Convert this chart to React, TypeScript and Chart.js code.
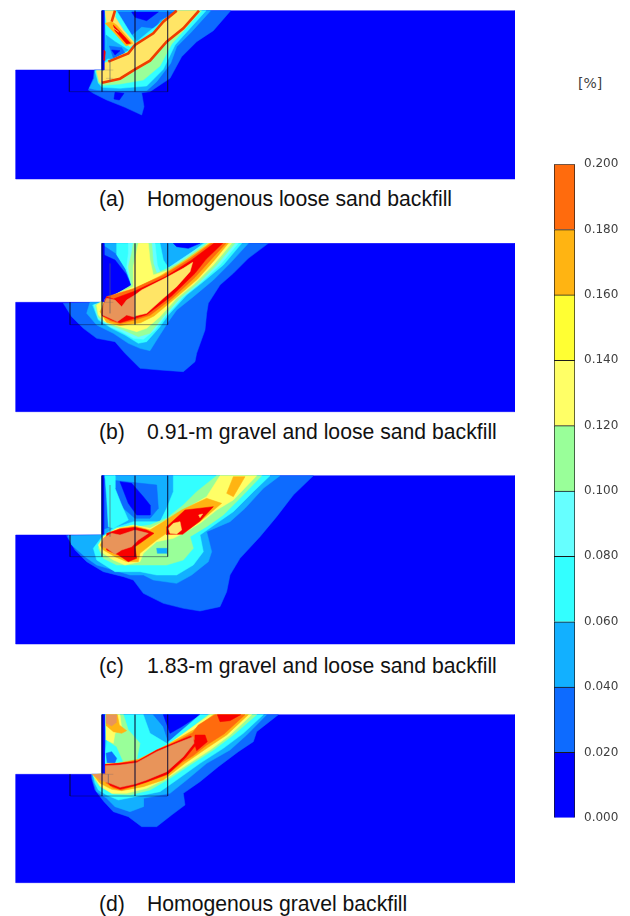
import React, { useEffect, useRef } from "react";
import { Chart, registerables } from "chart.js";

Chart.register(...registerables);

const levelColors: Record<string, string> = {
  L0: "#0000ff", L1: "#0d6bff", L2: "#12b0ff", L3: "#33ffff", L4: "#66ffff", L5: "#99ff99",
  L6: "#ffff66", L7: "#ffff33", L8: "#ffb412", L9: "#ff6b0d", L10: "#f80000", P: "#ffe566", O: "#e8945a",
};

type Layer = [string, number[]];

const panelA: Layer[] = [
  ["L0", [47,210, 306,210, 306,32, 1545,32, 1545,537, 47,537]],
  ["L1", [306,32, 692,32, 640,92, 590,125, 545,170, 510,235, 450,275, 425,278, 432,320, 425,345, 375,322, 320,300, 280,280, 265,270, 280,235, 283,210, 306,210]],
  ["L0", [345,277, 372,280, 358,300, 342,297]],
  ["L2", [306,32, 632,32, 575,95, 530,140, 512,190, 470,245, 440,272, 350,272, 290,270, 268,265, 283,235, 285,212, 306,212]],
  ["L1", [350,36, 530,36, 480,60, 465,85, 425,80, 395,105, 372,70]],
  ["L0", [395,36, 475,36, 440,62, 405,52]],
  ["L3", [285,212, 295,250, 306,262, 360,265, 440,258, 490,208, 525,135, 618,32, 535,32, 490,62, 450,92, 410,125, 395,105, 350,32, 314,32, 318,110, 325,175, 314,185, 314,212]],
  ["L2", [318,105, 345,125, 385,150, 335,178, 322,175]],
  ["L1", [328,138, 365,143, 375,160, 340,174]],
  ["L0", [335,150, 360,152, 345,165]],
  ["L5", [288,212, 296,248, 308,256, 360,252, 430,240, 480,198, 515,132, 605,32, 532,32, 490,60, 460,95, 405,135, 385,155, 325,185, 312,190, 312,212]],
  ["P", [290,212, 298,245, 310,250, 360,240, 405,212, 450,185, 498,130, 550,90, 597,32, 530,32, 490,60, 465,95, 405,135, 385,155, 325,185, 312,190, 312,212]],
  ["P", [315,32, 345,32, 345,50, 370,90, 405,130, 390,140, 345,100, 320,70]],
  ["L8", [335,65, 350,75, 398,130, 378,138, 340,95, 315,70]],
  ["L10", [340,75, 360,95, 392,130, 380,132, 345,92]],
  ["P", [340,84, 356,96, 345,88]],
  ["L0", [306,32, 312,32, 312,210, 306,210]],
  ["L10", [312,150, 316,155, 314,182, 311,180]],
];
const redLinesA: number[][] = [
  [306,248, 360,236, 405,208, 450,182, 500,125, 550,85, 597,32],
  [325,185, 385,160, 405,135, 460,100, 490,65, 530,32],
  [345,32, 335,65],
];

const panelB: Layer[] = [
  ["L0", [47,217, 306,217, 306,40, 1545,40, 1545,545, 47,545]],
  ["L1", [306,40, 805,40, 745,85, 700,130, 660,165, 625,220, 620,250, 615,300, 590,370, 585,395, 550,425, 480,420, 420,415, 375,370, 345,335, 290,325, 250,295, 215,260, 190,220, 306,217]],
  ["L2", [306,40, 745,40, 690,100, 640,150, 580,200, 530,240, 505,275, 470,330, 450,362, 420,355, 385,340, 340,310, 290,285, 260,250, 270,217, 306,217]],
  ["L0", [520,40, 600,40, 565,55, 530,50]],
  ["L3", [350,40, 480,40, 490,90, 510,120, 610,40, 725,40, 670,105, 610,155, 560,195, 505,255, 480,290, 440,335, 415,340, 375,315, 335,295, 295,270, 278,225, 306,217, 330,200, 395,170, 375,115, 350,75]],
  ["L1", [312,48, 345,70, 375,118, 395,170, 335,205, 312,212]],
  ["L0", [312,75, 345,90, 378,132, 392,165, 370,182, 335,200, 312,208]],
  ["L4", [385,40, 465,40, 472,105, 482,130, 525,100, 615,40, 715,40, 660,105, 602,158, 550,200, 497,258, 465,300, 430,328, 400,325, 365,305, 330,290, 295,266, 282,225, 306,216, 340,196, 395,168, 380,112, 385,70]],
  ["L5", [400,40, 455,40, 460,100, 470,130, 535,100, 620,40, 705,40, 650,105, 595,160, 540,205, 490,260, 450,310, 415,320, 370,300, 330,285, 295,262, 285,225, 306,215, 345,195, 395,165, 385,110, 395,70]],
  ["L6", [415,40, 445,40, 450,90, 460,135, 540,110, 625,40, 695,40, 640,105, 585,160, 530,205, 480,260, 440,295, 410,305, 360,290, 315,275, 295,255, 290,225, 320,205, 400,170, 400,110]],
  ["L8", [628,40, 685,40, 642,92, 592,148, 522,208, 462,258, 422,278, 360,287, 320,277, 300,245, 320,205, 400,178, 480,138, 560,88]],
  ["L9", [634,40, 678,40, 630,92, 585,142, 518,204, 450,256, 405,270, 360,281, 330,272, 306,255, 310,225, 320,200, 400,176, 490,136, 568,88]],
  ["L10", [642,40, 668,40, 618,88, 585,130, 515,198, 440,254, 405,265, 360,278, 335,270, 306,257, 310,225, 320,200, 340,207, 405,183, 495,141, 572,92]],
  ["O", [320,205, 345,210, 365,230, 380,210, 405,195, 405,262, 380,255, 352,275, 330,265, 308,255, 310,225]],
  ["P", [578,97, 570,125, 530,170, 490,205, 440,250, 405,258, 405,195, 425,180, 495,145, 550,115]],
  ["L0", [306,40, 312,40, 312,215, 306,215]],
];

const panelC: Layer[] = [
  ["L0", [47,210, 306,210, 306,32, 1545,32, 1545,537, 47,537]],
  ["L1", [306,32, 940,32, 880,90, 830,155, 780,215, 720,280, 690,330, 680,380, 660,425, 600,438, 550,430, 490,415, 430,385, 400,345, 370,335, 310,320, 260,290, 225,255, 200,212, 306,210]],
  ["L2", [306,32, 840,32, 790,70, 735,130, 690,170, 620,200, 635,260, 625,290, 575,330, 530,355, 460,345, 430,330, 390,330, 340,315, 290,300, 255,275, 215,240, 205,212, 306,210]],
  ["L1", [330,45, 470,60, 475,130, 450,160, 405,160, 370,130, 340,80]],
  ["L0", [360,50, 395,55, 430,95, 450,120, 450,150, 410,150, 385,115]],
  ["L1", [560,35, 620,35, 590,50]],
  ["L1", [306,32, 322,50, 330,185, 306,195]],
  ["L3", [520,32, 810,32, 760,80, 700,140, 650,175, 600,210, 610,260, 580,300, 530,330, 470,330, 420,320, 345,320, 290,285, 280,250, 306,215, 340,190, 400,170, 480,170, 500,130, 520,80]],
  ["L3", [315,32, 345,32, 345,70, 365,120, 385,165, 340,190, 325,185, 320,100]],
  ["L5", [590,80, 650,32, 785,32, 720,100, 670,150, 620,185, 570,215, 580,250, 550,285, 500,300, 450,300, 410,300, 350,300, 310,280, 295,250, 310,215, 340,195, 450,180, 500,160, 550,120]],
  ["L2", [470,250, 500,250, 500,265, 472,265]],
  ["L6", [560,130, 620,95, 660,32, 770,32, 700,105, 650,135, 600,175, 550,205, 520,220, 470,230, 430,265, 420,290, 375,300, 340,285, 305,262, 295,240, 310,215, 350,190, 400,180, 450,190, 500,165]],
  ["L8", [545,135, 620,100, 665,115, 600,170, 545,205, 500,205, 470,225, 420,265, 415,290, 380,290, 345,275, 310,255, 300,240, 320,210, 360,190, 405,183, 450,195, 490,170]],
  ["L8", [700,35, 735,35, 700,95, 680,85, 690,60]],
  ["L10", [500,185, 555,135, 640,125, 600,168, 548,208, 498,208]],
  ["L10", [320,205, 360,192, 405,187, 440,195, 462,205, 420,235, 405,245, 410,280, 385,290, 355,270, 320,255]],
  ["O", [310,220, 335,205, 360,210, 405,195, 445,205, 415,225, 395,245, 365,255, 345,268, 320,250, 306,245]],
  ["P", [505,190, 520,175, 540,170, 545,195, 530,207, 510,205]],
  ["P", [596,150, 608,147, 600,158]],
  ["L0", [306,32, 311,32, 311,208, 306,208]],
];

const panelD: Layer[] = [
  ["L0", [47,223, 306,223, 306,44, 1545,44, 1545,548, 47,548]],
  ["L1", [306,44, 835,44, 770,95, 760,125, 715,155, 655,200, 600,245, 550,280, 555,315, 515,345, 470,380, 425,380, 385,350, 340,335, 312,305, 285,270, 275,235, 275,223, 306,223]],
  ["L2", [306,44, 800,44, 740,105, 690,150, 620,190, 560,240, 510,280, 430,295, 430,320, 390,335, 345,320, 320,295, 290,275, 280,245, 275,223, 306,223]],
  ["L1", [460,44, 640,44, 560,90, 505,125, 490,80]],
  ["L0", [490,44, 600,44, 545,80, 510,100]],
  ["L3", [315,44, 430,44, 450,100, 500,130, 600,44, 790,44, 730,100, 670,145, 600,190, 530,240, 480,275, 405,290, 355,300, 320,285, 295,270, 285,250, 280,225, 306,223, 315,170, 320,120]],
  ["L5", [320,44, 370,44, 385,90, 420,130, 410,180, 495,145, 625,44, 770,44, 700,105, 640,150, 570,195, 510,235, 450,270, 390,285, 340,282, 300,260, 285,240, 280,225, 315,220, 320,190, 340,205, 370,185, 350,140, 320,120]],
  ["L1", [318,160, 335,155, 350,175, 340,200, 322,190]],
  ["L6", [318,44, 360,44, 365,85, 345,100, 340,130, 320,120]],
  ["L6", [630,44, 755,44, 690,105, 630,150, 560,195, 500,235, 440,265, 380,280, 335,280, 300,258, 280,225, 315,220, 320,190, 370,190, 420,180, 495,140]],
  ["L8", [640,44, 745,44, 680,105, 620,145, 555,190, 490,240, 430,260, 365,272, 335,268, 300,250, 280,225, 315,220, 318,195, 360,188, 415,178, 500,135, 580,90]],
  ["L8", [318,44, 352,44, 358,75, 380,92, 365,100, 340,95, 320,78]],
  ["L9", [645,44, 735,44, 672,102, 620,135, 578,168, 548,186, 500,225, 430,250, 365,270, 340,264, 320,250, 318,225, 315,195, 360,190, 415,180, 500,140, 578,98, 595,75]],
  ["L10", [652,44, 722,44, 690,62, 660,65]],
  ["L10", [585,105, 615,105, 622,125, 590,152, 585,135]],
  ["L10", [572,108, 592,130, 556,174, 505,221, 440,246, 405,257, 360,268, 330,256, 316,238, 315,193, 360,190, 412,184, 470,150, 530,125]],
  ["O", [580,110, 582,130, 550,170, 500,215, 440,240, 405,252, 360,262, 330,250, 300,240, 285,228, 275,223, 315,222, 316,197, 360,195, 410,188, 470,155, 530,130]],
  ["O", [318,44, 350,44, 348,68, 335,78, 320,70]],
  ["L0", [306,44, 313,44, 313,220, 306,220]],
];

const structureA: number[][] = [
  [306,32, 306,275], [405,32, 405,275], [503,32, 503,275], [208,275, 503,275], [208,210, 208,275],
];
const structureB: number[][] = [
  [306,40, 306,284], [405,40, 405,284], [503,40, 503,284], [210,284, 503,284], [210,217, 210,284],
];
const structureC: number[][] = [
  [306,32, 306,275], [405,32, 405,275], [503,32, 503,275], [210,275, 503,275], [210,210, 210,275],
];
const structureD: number[][] = [
  [306,44, 306,288], [405,44, 405,288], [503,44, 503,288], [210,288, 503,288], [210,223, 210,288],
];
const miniGridA: number[][] = [[306,210, 340,210], [318,235, 340,235], [330,180, 330,245]];
const miniGridB: number[][] = [[306,217, 340,217], [330,100, 330,250]];
const miniGridC: number[][] = [[330,60, 330,215]];
const miniGridD: number[][] = [[306,223, 340,223], [325,223, 325,250]];

const captionTags = ["(a)", "(b)", "(c)", "(d)"];
const captionTexts = [
  "Homogenous loose sand backfill",
  "0.91-m gravel and loose sand backfill",
  "1.83-m gravel and loose sand backfill",
  "Homogenous gravel backfill",
];
const captionTops = [187, 420, 654, 892];

const panelLayers = [panelA, panelB, panelC, panelD];
const panelStructures = [structureA, structureB, structureC, structureD];
const panelMiniGrids = [miniGridA, miniGridB, miniGridC, miniGridD];
const panelRedLines: number[][][] = [redLinesA, [], [], []];
const panelTops = [10, 243, 475, 714];
const panelScaleMins = [30, 39, 30, 42];

const colorbarCategory = ["strain"];
const colorbarStep = [0.02, 0.02, 0.02, 0.02, 0.02, 0.02, 0.02, 0.02, 0.02, 0.02];
const colorbarColors = ["#0000ff", "#0d6bff", "#12b0ff", "#33ffff", "#66ffff", "#99ff99", "#ffff66", "#ffff33", "#ffb412", "#ff6b0d"];
const colorbarTicks = ["0.000", "0.020", "0.040", "0.060", "0.080", "0.100", "0.120", "0.140", "0.160", "0.180", "0.200"];

const toPoints = (flat: number[]) => {
  const out: { x: number; y: number }[] = [];
  for (let i = 0; i + 1 < flat.length; i += 2) out.push({ x: flat[i], y: flat[i + 1] });
  return out;
};

function Panel({ index }: { index: number }) {
  const ref = useRef<HTMLCanvasElement>(null);
  useEffect(() => {
    const min = panelScaleMins[index];
    const fills = panelLayers[index].map(([key, flat]) => {
      const pts = toPoints(flat);
      return {
        data: [...pts, pts[0]],
        showLine: true,
        fill: "shape",
        backgroundColor: levelColors[key],
        borderColor: levelColors[key],
        borderWidth: 0.5,
        pointRadius: 0,
      };
    });
    const reds = panelRedLines[index].map((flat) => ({
      data: toPoints(flat), showLine: true, fill: false, borderColor: "#ef3c00", borderWidth: 2.6, pointRadius: 0,
    }));
    const mini = panelMiniGrids[index].map((flat) => ({
      data: toPoints(flat), showLine: true, fill: false, borderColor: "rgba(90,90,110,0.35)", borderWidth: 0.7, pointRadius: 0,
    }));
    const struct = panelStructures[index].map((flat) => ({
      data: toPoints(flat), showLine: true, fill: false, borderColor: "rgba(10,10,50,0.55)", borderWidth: 0.8, pointRadius: 0,
    }));
    // the first dataset is painted last, so the painter's order is reversed here
    const datasets = [...struct, ...mini, ...reds, ...fills.slice().reverse()];
    const chart = new Chart(ref.current!, {
      type: "scatter",
      data: { datasets: datasets as any },
      options: {
        animation: false,
        responsive: false,
        devicePixelRatio: 1,
        layout: { padding: 0 },
        plugins: { legend: { display: false }, tooltip: { enabled: false }, title: { display: false } },
        scales: {
          x: { type: "linear", display: false, min: 45, max: 1545 },
          y: { type: "linear", display: false, min, max: min + 510, reverse: true },
        },
      },
    });
    return () => chart.destroy();
  }, [index]);
  return (
    <canvas
      ref={ref}
      width={500}
      height={170}
      style={{ position: "absolute", left: 15, top: panelTops[index], width: 500, height: 170, filter: "blur(0.45px)" }}
    />
  );
}

function Colorbar() {
  const ref = useRef<HTMLCanvasElement>(null);
  useEffect(() => {
    const chart = new Chart(ref.current!, {
      type: "bar",
      data: {
        labels: colorbarCategory,
        datasets: colorbarStep.map((v, i) => ({
          data: [v],
          backgroundColor: colorbarColors[i],
          borderColor: "#1a1a1a",
          borderWidth: 1,
          barPercentage: 1,
          categoryPercentage: 1,
        })),
      },
      options: {
        animation: false,
        responsive: false,
        devicePixelRatio: 1,
        layout: { padding: { top: 4, bottom: 5, left: 0, right: 0 } },
        plugins: { legend: { display: false }, tooltip: { enabled: false } },
        scales: {
          x: { stacked: true, display: false },
          y: {
            stacked: true,
            position: "right",
            min: 0,
            max: 0.2,
            afterFit: (s: any) => { s.width = 55; },
            grid: { display: false, drawTicks: false },
            border: { display: false },
            ticks: {
              stepSize: 0.02,
              autoSkip: false,
              padding: 9,
              color: "#404040",
              font: { family: "DejaVu Sans", size: 12 },
              callback: (_v: any, i: number) => colorbarTicks[i],
            },
          },
        },
      },
    });
    return () => chart.destroy();
  }, []);
  return (
    <canvas ref={ref} width={76} height={686} style={{ position: "absolute", left: 554, top: 148, width: 76, height: 686 }} />
  );
}

export default function App() {
  return (
    <div style={{ position: "absolute", left: 0, top: 0, width: 630, height: 916, overflow: "hidden", background: "#fff" }}>
      {captionTags.map((_, i) => <Panel key={i} index={i} />)}
      <Colorbar />
      <div style={{ position: "absolute", left: 578, top: 75, font: "14px 'DejaVu Sans'", color: "#404040" }}>[%]</div>
      {captionTags.map((tag, i) => (
        <React.Fragment key={tag}>
          <div style={{ position: "absolute", left: 99, top: captionTops[i], font: "21.2px 'Liberation Sans'", color: "#111", whiteSpace: "nowrap" }}>{tag}</div>
          <div style={{ position: "absolute", left: 147, top: captionTops[i], font: "21.2px 'Liberation Sans'", color: "#111", whiteSpace: "nowrap" }}>{captionTexts[i]}</div>
        </React.Fragment>
      ))}
    </div>
  );
}
